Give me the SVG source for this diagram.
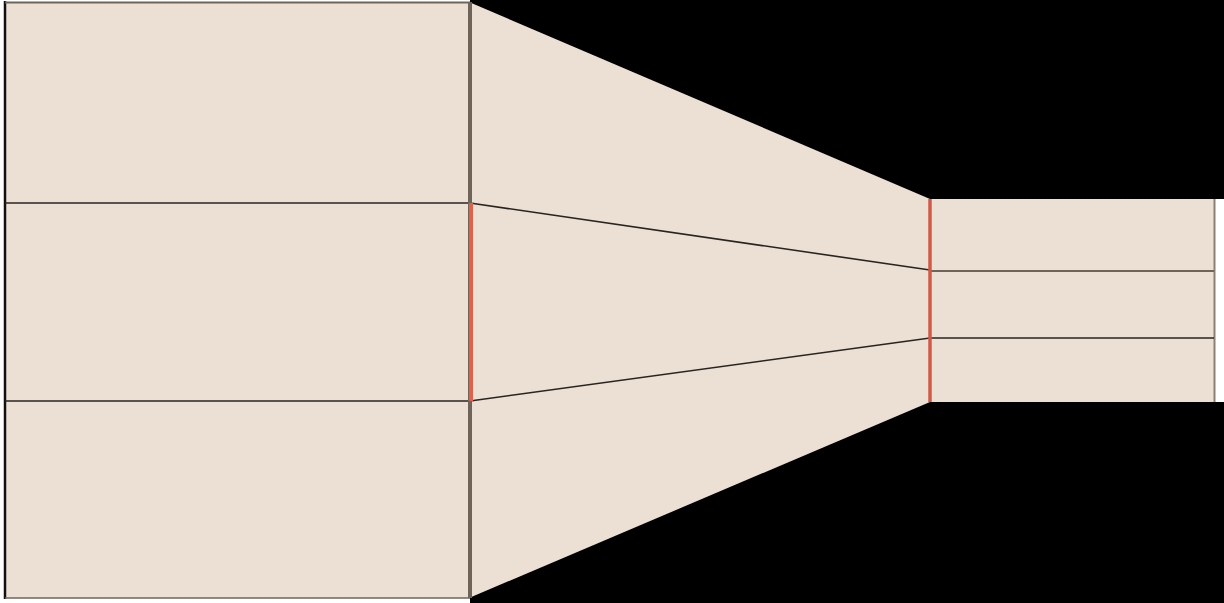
<svg xmlns="http://www.w3.org/2000/svg" width="1224" height="603" viewBox="0 0 1224 603">
<style>
.fill{fill:#ebe0d3}
.thin{stroke:#2a2420;stroke-width:1.6;fill:none}
.gray{stroke:#6e645a;stroke-width:4;fill:none}
.red{stroke:#e0604a;stroke-width:4;fill:none}
.blk{fill:#000}
</style>
<rect x="0" y="0" width="1224" height="603" fill="#ffffff"/>
<rect class="blk" x="470" y="0" width="754" height="603"/>
<rect x="1215" y="199" width="9" height="203" fill="#ffffff"/>
<g id="left-block">
<rect class="fill" x="5" y="2" width="465" height="596"/>
<line x1="5" y1="1" x2="5" y2="599" stroke="#111" stroke-width="2.5"/>
<line x1="5" y1="2.5" x2="470" y2="2.5" stroke="#6e645a" stroke-width="2"/>
<line x1="5" y1="598" x2="470" y2="598" stroke="#6e645a" stroke-width="1.5"/>
</g>
<g id="taper">
<polygon class="fill" points="469,2 930,199 930,402 469,598"/>
</g>
<g id="right-block">
<rect class="fill" x="930" y="199" width="285" height="203"/>
<line x1="1214.5" y1="199" x2="1214.5" y2="402" stroke="#8a8076" stroke-width="2"/>
</g>
<g id="connectors">
<line class="thin" x1="5" y1="203" x2="470" y2="203"/>
<line class="thin" x1="5" y1="401" x2="470" y2="401"/>
<line class="thin" x1="470" y1="203" x2="930" y2="270"/>
<line class="thin" x1="470" y1="401" x2="930" y2="338"/>
<line x1="930" y1="271" x2="1214" y2="271" stroke="#6e645a" stroke-width="2"/>
<line class="thin" x1="930" y1="338" x2="1214" y2="338"/>
<line class="gray" x1="470" y1="2" x2="470" y2="598"/>
<line class="red" x1="471" y1="203" x2="471" y2="401"/>
<line x1="930" y1="199" x2="930" y2="402" stroke="#d05a48" stroke-width="3.5"/>
</g>
</svg>
